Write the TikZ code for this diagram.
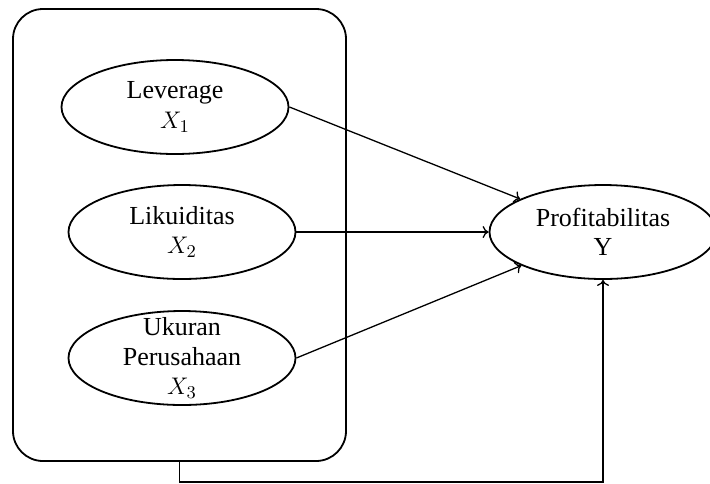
\documentclass[tikz,border=0pt]{standalone}
\usepackage{amsmath,amssymb}
\usepackage{fontspec}
\setmainfont{Liberation Serif}
\usetikzlibrary{shapes.geometric,arrows.meta}

\begin{document}
\begin{tikzpicture}[x=0.5pt,y=-0.5pt,
        var/.style={draw,ellipse,line width=0.9pt,inner sep=0pt,minimum width=113.5pt,minimum height=47pt,align=center},
        lbl/.style={align=center},
        link/.style={-{To[length=3pt,width=6pt]},line width=0.65pt}]
        \useasboundingbox (0,0) rectangle (710,483);
        \fontsize{13}{14.75}\selectfont
        \node[draw,line width=0.9pt,rounded corners=15pt,minimum width=166.5pt,minimum height=226pt] (grp) at (179.5,235) {}; % box round X
        \node[var] (lev) at (175,107) {Leverage\\$X_1$};
        \node[var] (liq) at (182,232) {Likuiditas\\$X_2$};
        \node[var] (uk) at (182,358) {};
        \node[lbl] (uktext) at (uk.center) {Ukuran\\Perusahaan\\$X_3$}; % text runs past the ellipse
        \node[var] (prof) at (603,232) {Profitabilitas\\Y};
        \draw[link] (lev.east) -- (prof);
        \draw[link] (liq.east) -- (prof.west);
        \draw[link] (uk.east) -- (prof);
        \draw[link] (grp.south) -- ++(0,20) -| (prof.south);
    \end{tikzpicture}
\end{document}
